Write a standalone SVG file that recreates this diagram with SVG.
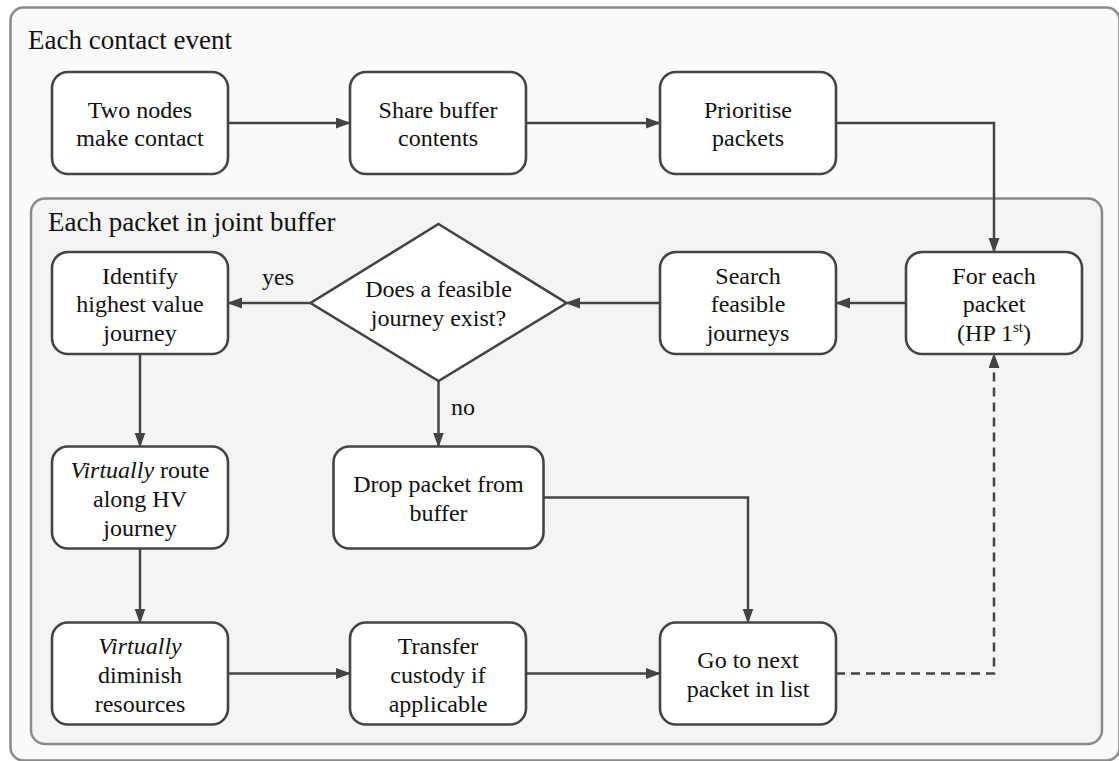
<svg xmlns="http://www.w3.org/2000/svg" width="1119" height="761" viewBox="0 0 1119 761">
<style>
.cont{stroke:#8a8a8a;stroke-width:2.5}
.box{fill:#fff;stroke:#444;stroke-width:2.6}
.t{font-family:"Liberation Serif","Times New Roman",serif;font-size:24px;fill:#111;text-anchor:middle}
.title{font-family:"Liberation Serif","Times New Roman",serif;font-size:27px;fill:#111}
.lbl{font-family:"Liberation Serif","Times New Roman",serif;font-size:24px;fill:#111}
.e{fill:none;stroke:#444;stroke-width:2.5;marker-end:url(#ah)}
.dash{stroke-dasharray:9 6}
</style>
<defs>
<marker id="ah" markerUnits="userSpaceOnUse" markerWidth="16" markerHeight="12" refX="13" refY="5.5" orient="auto">
<path d="M0,0 L15,5.5 L0,11 z" fill="#444"/>
</marker>
</defs>
<g id="outer">
<rect class="cont" x="10.5" y="7.5" width="1109" height="753" rx="13" fill="#fafafa"/>
<text class="title" x="28" y="49">Each contact event</text>
</g>
<g id="inner">
<rect class="cont" x="31" y="198.5" width="1071" height="545.5" rx="14" fill="#f4f4f4"/>
<text class="title" x="48" y="231">Each packet in joint buffer</text>
</g>
<g id="connectors">
<path class="e" d="M228,123 H349"/>
<path class="e" d="M526,123 H659"/>
<path class="e" d="M836,123 H994 V251"/>
<path class="e" d="M906,303 H837"/>
<path class="e" d="M660,303 H567"/>
<path class="e" d="M310.5,303 H229"/>
<path class="e" d="M438.5,381 V445.5"/>
<path class="e" d="M140,354 V445.5"/>
<path class="e" d="M140,548.5 V621.5"/>
<path class="e" d="M228,673.5 H349"/>
<path class="e" d="M526,673.5 H659"/>
<path class="e" d="M543.5,497.5 H748 V621.5"/>
<path class="e dash" d="M836,673.5 H994 V355"/>
<text class="lbl" x="278" y="285" text-anchor="middle">yes</text>
<text class="lbl" x="451" y="415">no</text>
</g>
<g id="n-two"><rect class="box" x="52" y="72" width="176" height="102" rx="16"/>
<text class="t"><tspan x="140" y="117.5">Two nodes</tspan><tspan x="140" y="146.3">make contact</tspan></text></g>
<g id="n-share"><rect class="box" x="350" y="72" width="176" height="102" rx="16"/>
<text class="t"><tspan x="438" y="117.5">Share buffer</tspan><tspan x="438" y="146.3">contents</tspan></text></g>
<g id="n-prio"><rect class="box" x="660" y="72" width="176" height="102" rx="16"/>
<text class="t"><tspan x="748" y="117.5">Prioritise</tspan><tspan x="748" y="146.3">packets</tspan></text></g>
<g id="n-foreach"><rect class="box" x="906" y="252" width="176" height="102" rx="16"/>
<text class="t"><tspan x="994" y="283.5">For each</tspan><tspan x="994" y="312.2">packet</tspan><tspan x="994" y="341">(HP 1<tspan font-size="15" dy="-9">st</tspan><tspan dy="9">)</tspan></tspan></text></g>
<g id="n-search"><rect class="box" x="660" y="252" width="176" height="102" rx="16"/>
<text class="t"><tspan x="748" y="283.5">Search</tspan><tspan x="748" y="312.2">feasible</tspan><tspan x="748" y="341">journeys</tspan></text></g>
<g id="n-decision"><path class="box" d="M438.5,224 L566.5,303 L438.5,381 L310.5,303 z"/>
<text class="t"><tspan x="438.5" y="297.3">Does a feasible</tspan><tspan x="438.5" y="326.1">journey exist?</tspan></text></g>
<g id="n-identify"><rect class="box" x="52" y="252" width="176" height="102" rx="16"/>
<text class="t"><tspan x="140" y="283.5">Identify</tspan><tspan x="140" y="312.2">highest value</tspan><tspan x="140" y="341">journey</tspan></text></g>
<g id="n-route"><rect class="box" x="52" y="446.5" width="176" height="102" rx="16"/>
<text class="t"><tspan x="140" y="478"><tspan font-style="italic">Virtually</tspan> route</tspan><tspan x="140" y="506.7">along HV</tspan><tspan x="140" y="535.5">journey</tspan></text></g>
<g id="n-drop"><rect class="box" x="333.5" y="446.5" width="210" height="102" rx="16"/>
<text class="t"><tspan x="438.5" y="492">Drop packet from</tspan><tspan x="438.5" y="520.8">buffer</tspan></text></g>
<g id="n-diminish"><rect class="box" x="52" y="622.5" width="176" height="102" rx="16"/>
<text class="t"><tspan x="140" y="654" font-style="italic">Virtually</tspan><tspan x="140" y="682.7">diminish</tspan><tspan x="140" y="711.5">resources</tspan></text></g>
<g id="n-transfer"><rect class="box" x="350" y="622.5" width="176" height="102" rx="16"/>
<text class="t"><tspan x="438" y="654">Transfer</tspan><tspan x="438" y="682.7">custody if</tspan><tspan x="438" y="711.5">applicable</tspan></text></g>
<g id="n-next"><rect class="box" x="660" y="622.5" width="176" height="102" rx="16"/>
<text class="t"><tspan x="748" y="668">Go to next</tspan><tspan x="748" y="696.8">packet in list</tspan></text></g>
</svg>
